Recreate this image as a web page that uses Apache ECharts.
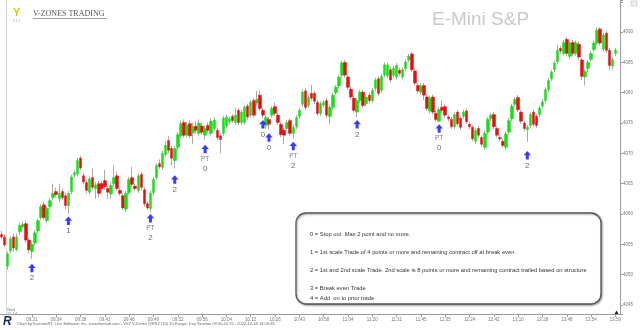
<!DOCTYPE html>
<html><head><meta charset="utf-8">
<script src="https://cdn.jsdelivr.net/npm/echarts@6/dist/echarts.min.js"></script>
<style>html,body{margin:0;padding:0;background:#fff}#c{width:640px;height:330px}</style>
</head><body><div id="c"></div>
<script>
// x-axis tick labels (one every 8 range bars, first at bar 10)
const tickLabels = ["09:31","09:34","09:38","09:41","09:46","09:49","09:52","09:56","10:04","10:12","10:26","10:43","10:58","11:04","11:20","11:31","11:45","12:05","12:24","12:42","13:10","13:28","13:48","13:54","13:59"];
const opens = [
4056.6,4056.2,4051.4,4053.9,4056.2,4054.1,4057.1,4057.9,4058.4,4055.7,
4053.8,4055.2,4057.2,4059.4,4061.5,4058.9,4061.2,4062.7,4063.7,4062.5,
4063.7,4063.0,4061.4,4063.7,4066.4,4066.6,4069.2,4066.3,4065.2,4063.6,
4066.0,4064.2,4065.0,4065.0,4065.5,4064.2,4063.3,4065.0,4066.3,4063.9,
4063.0,4060.8,4063.5,4066.0,4064.6,4063.9,4066.5,4064.0,4061.7,4060.9,
4063.5,4066.0,4068.3,4067.7,4069.8,4072.1,4070.8,4068.8,4071.0,4072.9,
4075.1,4073.0,4074.9,4073.4,4074.5,4073.3,4074.5,4073.0,4074.6,4073.3,
4074.1,4073.8,4072.9,4073.3,4074.5,4075.2,4076.1,4075.1,4077.1,4075.1,
4075.1,4077.8,4076.3,4078.7,4078.3,4079.6,4077.1,4074.6,4075.6,4076.3,
4077.7,4076.3,4074.8,4073.8,4074.1,4075.4,4073.3,4074.4,4076.1,4078.1,
4080.3,4077.9,4079.9,4079.9,4078.4,4076.6,4078.0,4078.7,4076.1,4077.6,
4080.0,4081.1,4082.9,4085.0,4082.6,4080.6,4079.1,4076.8,4078.7,4080.1,
4078.2,4079.6,4078.7,4080.7,4082.3,4080.4,4082.9,4082.8,4083.8,4082.9,
4082.6,4083.7,4082.6,4084.0,4085.4,4086.4,4083.6,4081.2,4080.1,4081.2,
4079.3,4077.0,4079.3,4076.6,4075.3,4077.6,4077.7,4076.0,4075.6,4074.4,
4076.8,4075.8,4076.1,4077.0,4074.8,4074.3,4072.0,4074.1,4072.6,4071.0,
4073.5,4075.7,4076.4,4074.1,4072.6,4072.0,4071.0,4073.5,4075.7,4078.1,
4079.2,4076.8,4075.0,4073.9,4074.6,4076.8,4076.1,4076.4,4077.8,4078.7,
4080.5,4082.3,4083.8,4085.1,4087.3,4086.5,4088.8,4086.0,4088.3,4086.5,
4088.0,4085.4,4082.6,4084.0,4085.5,4087.1,4088.2,4090.5,4087.2,4089.8,
4087.0,4084.4,4086.5];
const closes = [
4056.2,4054.9,4053.4,4055.9,4054.4,4056.2,4058.1,4058.3,4055.7,4054.1,
4055.0,4056.9,4058.9,4061.2,4059.4,4060.9,4062.2,4063.4,4063.2,4063.4,
4062.7,4061.4,4063.4,4066.1,4066.8,4068.8,4067.6,4065.3,4063.9,4065.8,
4064.4,4064.8,4063.4,4064.2,4064.5,4063.6,4064.7,4066.0,4064.2,4063.4,
4061.0,4063.4,4065.7,4064.9,4064.2,4066.3,4064.4,4061.7,4061.0,4063.4,
4065.7,4068.0,4067.8,4070.0,4071.3,4070.5,4069.2,4070.8,4073.1,4074.9,
4073.0,4074.7,4072.9,4074.4,4073.8,4075.0,4073.5,4074.1,4073.8,4075.3,
4075.5,4072.6,4072.3,4075.8,4076.0,4075.7,4075.4,4076.3,4075.1,4076.8,
4077.6,4076.0,4078.4,4076.3,4078.9,4077.4,4076.3,4075.9,4074.8,4077.4,
4076.6,4075.1,4073.1,4073.0,4075.1,4073.3,4074.3,4075.9,4077.1,4080.1,
4077.6,4079.2,4079.1,4078.6,4076.6,4078.2,4078.4,4076.3,4077.6,4079.6,
4080.9,4082.6,4084.9,4082.9,4080.9,4079.3,4077.1,4078.7,4080.1,4077.9,
4079.3,4078.7,4080.4,4082.1,4079.9,4082.7,4084.6,4084.6,4082.1,4084.0,
4084.5,4083.2,4083.8,4085.1,4086.0,4083.8,4081.6,4080.3,4081.1,4079.6,
4077.4,4079.1,4076.8,4075.6,4077.2,4077.1,4076.3,4075.7,4074.4,4076.4,
4074.9,4074.3,4076.8,4075.2,4074.4,4072.4,4073.8,4073.0,4071.5,4073.3,
4075.6,4076.3,4074.4,4073.0,4072.4,4071.3,4073.2,4075.4,4077.8,4078.9,
4077.2,4075.3,4074.1,4074.3,4076.4,4074.8,4074.6,4077.5,4078.5,4080.5,
4082.0,4083.4,4084.9,4087.0,4086.9,4088.3,4086.5,4088.2,4086.5,4088.2,
4085.9,4082.7,4083.5,4085.0,4086.5,4088.2,4090.3,4088.2,4089.5,4087.0,
4084.5,4085.5,4087.0];
const lows = [
4055.8,4054.5,4050.8,4053.5,4053.8,4053.8,4056.5,4057.5,4055.3,4053.5,
4052.6,4054.8,4056.8,4059.0,4059.0,4058.5,4060.8,4062.3,4062.8,4062.0,
4062.3,4060.8,4060.0,4063.2,4066.0,4066.2,4067.2,4064.9,4063.4,4063.2,
4064.0,4062.5,4062.8,4063.5,4064.0,4062.5,4062.5,4064.6,4063.8,4063.0,
4060.6,4060.3,4063.1,4064.5,4063.8,4063.5,4063.9,4061.2,4060.6,4060.3,
4063.1,4065.6,4067.4,4067.3,4069.4,4070.0,4068.0,4067.5,4070.6,4072.5,
4072.6,4072.6,4072.5,4071.5,4073.2,4072.8,4073.1,4072.2,4073.3,4072.9,
4073.7,4072.2,4070.0,4072.9,4074.1,4074.8,4075.0,4074.7,4074.7,4074.7,
4074.7,4075.6,4075.9,4075.9,4077.9,4077.0,4075.8,4074.0,4073.9,4075.9,
4076.2,4074.7,4072.7,4071.5,4073.7,4072.9,4072.5,4074.0,4075.7,4077.7,
4077.2,4077.5,4078.7,4078.2,4076.2,4076.2,4077.6,4075.9,4074.8,4077.2,
4079.6,4080.7,4082.5,4082.5,4080.5,4078.9,4076.7,4076.0,4078.3,4077.5,
4077.8,4078.3,4078.3,4080.3,4079.5,4080.0,4082.5,4082.4,4081.7,4082.5,
4082.2,4082.8,4082.2,4083.6,4085.0,4083.4,4081.2,4079.9,4079.7,4078.8,
4077.0,4076.6,4076.4,4075.2,4075.1,4076.7,4075.9,4075.3,4074.0,4074.0,
4074.5,4073.9,4075.7,4074.8,4074.0,4072.0,4071.6,4072.6,4071.1,4070.6,
4073.1,4075.3,4074.0,4072.6,4072.0,4070.9,4070.6,4073.1,4075.3,4077.7,
4076.8,4074.9,4073.7,4071.9,4074.2,4074.4,4074.2,4076.0,4077.4,4078.3,
4080.1,4081.9,4083.4,4084.7,4086.5,4086.1,4086.1,4085.6,4086.1,4086.1,
4085.5,4082.1,4081.2,4083.4,4085.1,4086.7,4087.8,4087.8,4086.8,4086.6,
4083.7,4083.7,4086.1];
const highs = [
4057.2,4056.6,4053.8,4056.3,4056.8,4056.8,4058.6,4058.8,4058.9,4056.0,
4055.4,4057.3,4059.3,4061.6,4062.0,4061.3,4062.7,4065.0,4064.3,4065.0,
4064.2,4063.5,4063.8,4066.5,4067.2,4069.3,4069.6,4066.8,4065.6,4066.2,
4067.5,4065.3,4065.5,4065.5,4067.3,4064.6,4065.2,4068.0,4067.0,4064.3,
4063.4,4063.8,4066.1,4067.8,4065.0,4066.7,4067.0,4064.4,4062.1,4063.8,
4066.1,4068.4,4069.0,4070.4,4072.0,4072.8,4071.2,4071.2,4073.5,4075.4,
4075.6,4075.2,4075.4,4075.0,4075.3,4075.6,4075.0,4074.6,4075.1,4075.8,
4076.0,4074.2,4073.3,4076.2,4076.4,4076.1,4076.5,4077.5,4077.5,4077.2,
4078.0,4078.2,4078.8,4079.1,4080.3,4080.3,4077.5,4076.3,4076.0,4077.8,
4078.4,4076.7,4075.2,4074.2,4075.5,4075.8,4074.7,4076.3,4077.5,4080.5,
4080.7,4079.6,4081.3,4080.3,4078.8,4078.6,4078.8,4079.1,4078.0,4080.0,
4081.3,4083.0,4085.3,4085.4,4083.0,4081.0,4079.5,4079.1,4080.5,4080.5,
4079.7,4080.0,4080.8,4082.5,4082.7,4083.1,4085.0,4085.0,4084.2,4084.4,
4084.9,4084.1,4084.2,4085.5,4086.4,4086.8,4084.0,4081.6,4081.5,4081.6,
4079.7,4079.5,4079.7,4077.0,4077.6,4078.7,4078.1,4076.4,4076.0,4076.8,
4077.2,4076.2,4077.2,4077.4,4075.2,4074.7,4074.2,4074.5,4073.0,4073.7,
4076.0,4076.7,4076.8,4074.5,4073.0,4072.4,4073.6,4075.8,4078.2,4079.3,
4079.6,4077.2,4075.4,4074.7,4076.8,4077.2,4076.5,4077.9,4078.9,4080.9,
4082.4,4083.8,4085.3,4087.9,4087.7,4088.7,4089.2,4088.6,4088.7,4088.6,
4088.4,4085.8,4083.9,4085.4,4086.9,4088.6,4090.7,4090.8,4089.9,4090.2,
4087.4,4085.9,4087.4];
// trade markers
const arrowIdx = [10,22,49,57,67,86,88,96,117,144,173];
const arrowPrice = [4051.1,4058.9,4059.3,4065.7,4070.7,4074.8,4072.6,4071.2,4074.8,4074.1,4069.7];
const arrowPT = [false,false,true,false,true,false,false,true,false,true,false];
const arrowNum = ["2","1","2","2","0","0","0","2","2","0","2"];
const legendLines = [
 "0 = Stop out  Max 2 point and no more.",
 "1 = 1st scale Trade of 4 points or more and remaining contract off at break even",
 "2 = 1st and 2nd scale Trade. 2nd scale is 8 points or more and remaining contract trailed based on structure",
 "3 = Break even Trade",
 "4 = Add  on to prior trade"
];
const yTicks = [4045,4050,4055,4060,4065,4070,4075,4080,4085,4090];

const NCAT = 204;
const cats = [];
for (let i = 0; i < NCAT; i++) {
  const k = (i - 10) / 8;
  cats.push(i >= 10 && Number.isInteger(k) && k < tickLabels.length ? tickLabels[k] : 'b' + i);
}
const isTick = (i) => i >= 10 && (i - 10) % 8 === 0 && (i - 10) / 8 < tickLabels.length;

const wickData = opens.map((o, i) => [o, closes[i], lows[i], highs[i]]);
const bodyData = opens.map((o, i) => [o, closes[i], Math.min(o, closes[i]), Math.max(o, closes[i])]);
const arrowData = arrowIdx.map((ix, j) => ({
  value: [ix, arrowPrice[j]],
  label: { formatter: arrowPT[j] ? '{p|PT}\n{n|' + arrowNum[j] + '}' : '{n|' + arrowNum[j] + '}' }
}));

const FONT = 'Liberation Sans, Arial, sans-serif';
const chart = echarts.init(document.getElementById('c'), null, { renderer: 'canvas' });
const graphics = [
  { type: 'line', shape: { x1: 6.5, y1: 0, x2: 6.5, y2: 314 }, style: { stroke: '#d8d8d8', lineWidth: 1 }, silent: true },
  { type: 'text', left: 432, top: 10, style: { text: 'E-Mini S&P', font: '19px ' + FONT, fill: '#c9c9c9' } },
  { type: 'text', left: 13, top: 7, style: { text: 'Y', font: 'bold 11px ' + FONT, fill: '#c8d600' } },
  { type: 'text', left: 13, top: 20, style: { text: 'V Z T', font: '3px ' + FONT, fill: '#999' } },
  { type: 'text', left: 33, top: 10, style: { text: 'V-ZONES TRADING', font: '8px Liberation Serif, Times New Roman, serif', fill: '#555' } },
  { type: 'line', shape: { x1: 33, y1: 18.5, x2: 107, y2: 18.5 }, style: { stroke: '#777', lineWidth: 0.7 } },
  { type: 'rect', shape: { x: 296, y: 213, width: 305, height: 91, r: 10 },
    style: { fill: '#fff', stroke: '#555', lineWidth: 1.3, shadowBlur: 2, shadowColor: 'rgba(0,0,0,0.35)', shadowOffsetX: 1, shadowOffsetY: 1 } },
  { type: 'text', left: 7, top: 308, style: { text: 'Wed\n12-14', font: '4px ' + FONT, fill: '#777', lineHeight: 4 } },
  { type: 'text', left: 3, top: 316, style: { text: 'R', font: 'bold italic 12px ' + FONT, fill: '#1c2a5a' } },
  { type: 'text', left: 17, top: 322, style: { text: 'Chart by InvestorRT, Linn Software, Inc. www.linnsoft.com - VVZ V-Zones @ESZ (10) 10 Range, Day Session 09:30-16:15 - 2022-12-18 13:00:46', font: '4px ' + FONT, fill: '#666' } },
  { type: 'rect', shape: { x: 631, y: 1, width: 6, height: 5 }, style: { fill: '#eee', stroke: '#bbb', lineWidth: 0.5 } },
  { type: 'polygon', shape: { points: [[614.5, 314], [618.5, 314], [616.5, 310.5]] }, style: { fill: '#222' } }
];
const legendY = [234, 252, 270, 288, 298];
legendLines.forEach((t, j) => {
  graphics.push({ type: 'text', left: 310, top: legendY[j] - 3, style: { text: t, font: '5.8px ' + FONT, fill: '#333' } });
});

chart.setOption({
  animation: false,
  backgroundColor: '#fff',
  grid: { left: 0, right: 20, top: 0, bottom: 16, containLabel: false },
  xAxis: {
    type: 'category', data: cats, boundaryGap: true,
    axisLine: { show: true, lineStyle: { color: '#9a9a9a', width: 1 } },
    axisTick: { show: true, alignWithLabel: true, interval: (i) => isTick(i), length: 3, lineStyle: { color: '#9a9a9a' } },
    axisLabel: { interval: (i) => isTick(i), fontSize: 4.5, color: '#777', margin: 3, fontFamily: FONT },
    splitLine: { show: false }
  },
  yAxis: {
    type: 'value', position: 'right', min: 4043.5, max: 4095.3, splitNumber: 10, scale: true,
    axisLine: { show: true, lineStyle: { color: '#9a9a9a', width: 1 } },
    axisTick: { show: true, length: 3, lineStyle: { color: '#9a9a9a' } },
    minorTick: { show: true, splitNumber: 5, length: 1.5, lineStyle: { color: '#bbb' } },
    axisLabel: { fontSize: 4.5, color: '#777', margin: 3, fontFamily: FONT,
      formatter: (v) => yTicks.indexOf(v) >= 0 ? String(v) : '' },
    splitLine: { show: false }
  },
  series: [
    { type: 'candlestick', data: wickData, barWidth: 1, silent: true,
      itemStyle: { color: '#aaaaaa', color0: '#aaaaaa', borderColor: '#aaaaaa', borderColor0: '#aaaaaa', borderWidth: 1 } },
    { type: 'candlestick', data: bodyData, barWidth: 3, silent: true,
      itemStyle: { color: '#14e014', color0: '#e41010', borderColor: '#14e014', borderColor0: '#e41010', borderWidth: 0.5 } },
    { type: 'scatter', data: arrowData, symbol: 'path://M5,0 L10,5 L7,5 L7,10 L3,10 L3,5 L0,5 Z', symbolSize: [7.5, 8.5],
      itemStyle: { color: '#0a0aff' }, silent: true, z: 5,
      label: { show: true, position: 'bottom', distance: 1, color: '#444', fontFamily: FONT,
        rich: { p: { fontSize: 6.5, color: '#555', lineHeight: 9, fontFamily: FONT }, n: { fontSize: 8, color: '#444', lineHeight: 10, fontFamily: FONT } } } }
  ],
  graphic: graphics
});
</script></body></html>
